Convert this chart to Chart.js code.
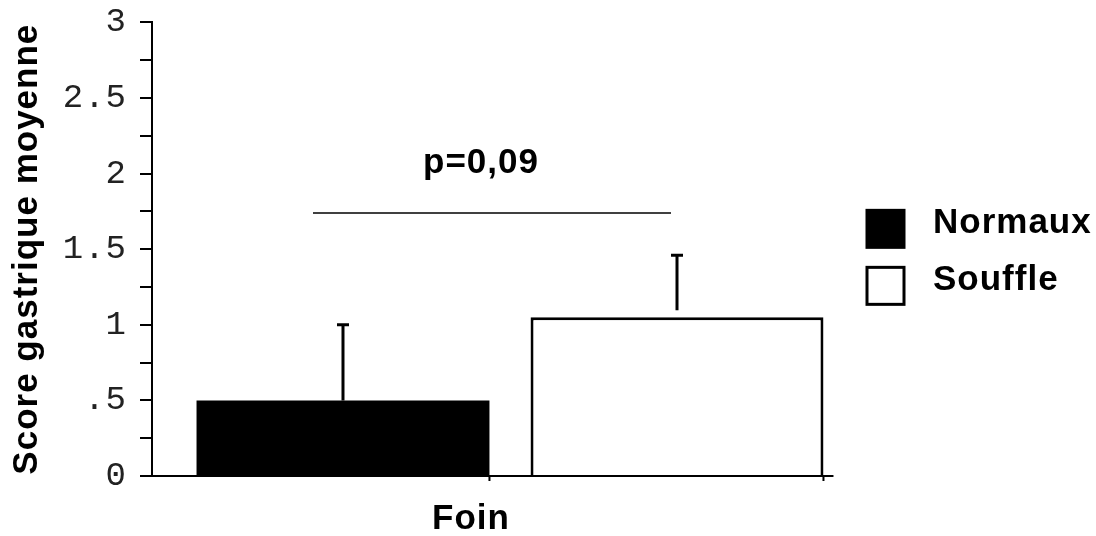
<!DOCTYPE html>
<html>
<head>
<meta charset="utf-8">
<script src="https://cdn.jsdelivr.net/npm/chart.js@4"></script>
<style>
  body { margin: 0; background: #fff; }
</style>
</head>
<body>
<canvas id="chart" width="1096" height="536"></canvas>
<script>
// data
const categories = ['Foin'];
const seriesNames = ['Normaux', 'Souffle'];
const normauxMean = [0.5];
const normauxErr = [0.5];
const souffleMean = [1.05];
const souffleErr = [0.41];
const sigLevel = [1.74];
const sigLabel = ['p=0,09'];
const yTickLabels = { '0': '0', '0.5': '.5', '1': '1', '1.5': '1.5', '2': '2', '2.5': '2.5', '3': '3' };

const errors = [normauxErr, souffleErr];
const sansFamily = '"Liberation Sans", Arial, sans-serif';
const boldFont = 'bold 35px ' + sansFamily;

// the original lettering is a little wider than Arial
const spacing = {
    id: 'spacing',
    beforeDraw(chart) { chart.ctx.letterSpacing = '1px'; }
};

// error bars drawn from the dataset values
const errorBars = {
    id: 'errorBars',
    afterDatasetsDraw(chart) {
        const ctx = chart.ctx;
        const y = chart.scales.y;
        ctx.save();
        ctx.strokeStyle = '#000';
        ctx.lineWidth = 3;
        chart.data.datasets.forEach((ds, i) => {
            const meta = chart.getDatasetMeta(i);
            meta.data.forEach((bar, j) => {
                const top = y.getPixelForValue(ds.data[j] + errors[i][j]);
                const start = ds.backgroundColor === '#fff' ? bar.y - 7 : bar.y;
                ctx.beginPath();
                ctx.moveTo(bar.x, start);
                ctx.lineTo(bar.x, top);
                ctx.moveTo(bar.x - 6, top);
                ctx.lineTo(bar.x + 6, top);
                ctx.stroke();
            });
        });
        ctx.restore();
    }
};

// x axis line, significance line and legend
const extras = {
    id: 'extras',
    afterDraw(chart) {
        const ctx = chart.ctx;
        const y = chart.scales.y;
        const area = chart.chartArea;
        const b0 = chart.getDatasetMeta(0).data[0];
        const b1 = chart.getDatasetMeta(1).data[0];
        ctx.save();

        // x axis
        ctx.strokeStyle = '#000';
        ctx.lineWidth = 2;
        ctx.beginPath();
        ctx.moveTo(area.left - 12, area.bottom);
        ctx.lineTo(b1.x + b1.width / 2 + 10, area.bottom);
        [b0, b1].forEach(b => {
            ctx.moveTo(b.x + b.width / 2, area.bottom);
            ctx.lineTo(b.x + b.width / 2, area.bottom + 5);
        });
        ctx.stroke();

        // significance
        const ys = y.getPixelForValue(sigLevel[0]);
        const x0 = b0.x - 30, x1 = b1.x - 6;
        ctx.lineWidth = 1.5;
        ctx.beginPath();
        ctx.moveTo(x0, ys);
        ctx.lineTo(x1, ys);
        ctx.stroke();
        ctx.fillStyle = '#000';
        ctx.font = boldFont;
        ctx.textAlign = 'center';
        ctx.textBaseline = 'middle';
        ctx.fillText(sigLabel[0], (x0 + x1) / 2 - 11, y.getPixelForValue(2.07));

        // legend
        ctx.textAlign = 'left';
        chart.data.datasets.forEach((ds, i) => {
            const cy = area.top + 206 + i * 57;
            const bx = area.right - 1;
            ctx.fillStyle = ds.backgroundColor;
            ctx.fillRect(bx, cy - 18, 37, 37);
            ctx.lineWidth = 3;
            ctx.strokeStyle = '#000';
            ctx.strokeRect(bx, cy - 18, 37, 37);
            ctx.fillStyle = '#000';
            ctx.fillText(ds.label, bx + 66, cy - 5);
        });
        ctx.restore();
    }
};

new Chart(document.getElementById('chart'), {
    type: 'bar',
    data: {
        labels: categories,
        datasets: [{
            label: seriesNames[0],
            data: normauxMean,
            backgroundColor: '#000',
            borderColor: '#000',
            borderWidth: 0
        }, {
            label: seriesNames[1],
            data: souffleMean,
            backgroundColor: '#fff',
            borderColor: '#000',
            borderWidth: 3,
            borderSkipped: 'bottom'
        }]
    },
    options: {
        responsive: false,
        animation: false,
        layout: { padding: { top: 0, right: 228, bottom: 0, left: 0 } },
        categoryPercentage: 0.933,
        barPercentage: 0.877,
        plugins: {
            legend: { display: false },
            tooltip: { enabled: false }
        },
        scales: {
            x: {
                grid: { display: false, drawTicks: false },
                border: { display: false },
                ticks: {
                    color: '#000',
                    font: { family: sansFamily, size: 35, weight: 'bold' },
                    padding: 22,
                    labelOffset: -39
                },
                afterFit(s) { s.height = 60; }
            },
            y: {
                min: 0,
                max: 3,
                grid: { drawOnChartArea: false, drawTicks: true, tickLength: 12, color: '#000', lineWidth: 2 },
                border: { color: '#000', width: 2 },
                ticks: {
                    stepSize: 0.25,
                    autoSkip: false,
                    padding: 13,
                    color: '#222',
                    font: { family: '"Liberation Mono", "Courier New", monospace', size: 34, lineHeight: 0.55 },
                    callback: v => yTickLabels[String(v)] || ''
                },
                title: {
                    display: true,
                    text: 'Score gastrique moyenne',
                    color: '#000',
                    font: { family: sansFamily, size: 35, weight: 'bold' },
                    padding: { top: 6, bottom: 0 }
                },
                afterFit(s) { s.width = 152; }
            }
        }
    },
    plugins: [spacing, errorBars, extras]
});
</script>
</body>
</html>
